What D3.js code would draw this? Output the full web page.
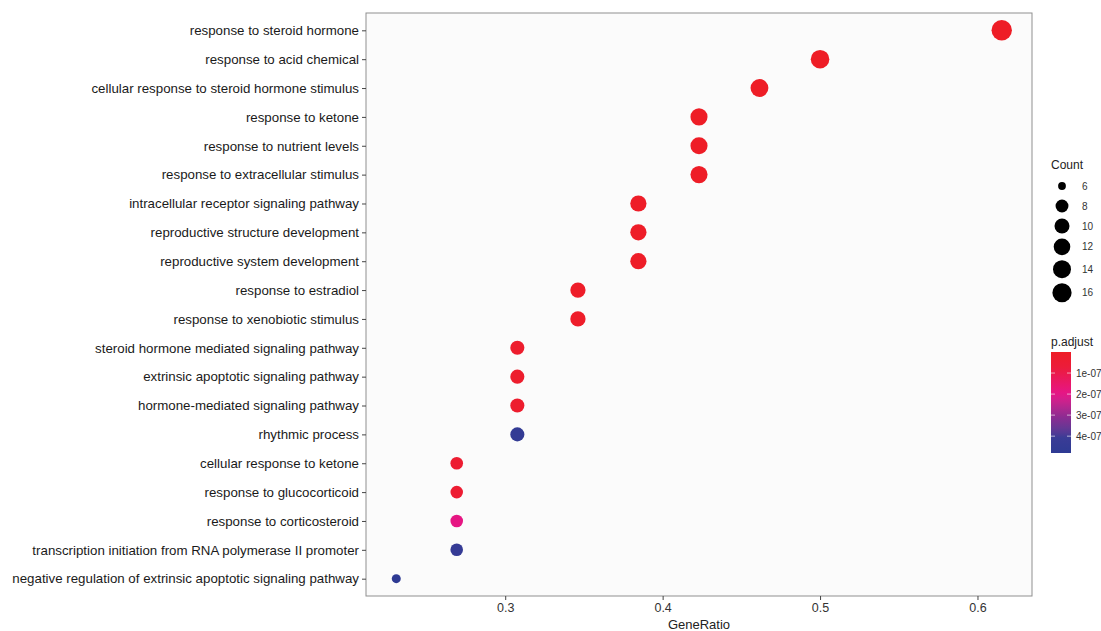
<!DOCTYPE html>
<html><head><meta charset="utf-8">
<script src="https://cdn.jsdelivr.net/npm/d3@7"></script>
<style>
body{margin:0;background:#fff;}
svg{font-family:"Liberation Sans", Arial, sans-serif;}
</style></head>
<body><svg id="chart" width="1101" height="631"></svg>
<script>
const categories = [
  "response to steroid hormone",
  "response to acid chemical",
  "cellular response to steroid hormone stimulus",
  "response to ketone",
  "response to nutrient levels",
  "response to extracellular stimulus",
  "intracellular receptor signaling pathway",
  "reproductive structure development",
  "reproductive system development",
  "response to estradiol",
  "response to xenobiotic stimulus",
  "steroid hormone mediated signaling pathway",
  "extrinsic apoptotic signaling pathway",
  "hormone-mediated signaling pathway",
  "rhythmic process",
  "cellular response to ketone",
  "response to glucocorticoid",
  "response to corticosteroid",
  "transcription initiation from RNA polymerase II promoter",
  "negative regulation of extrinsic apoptotic signaling pathway"
];
const geneRatio = [0.6154,0.5000,0.4615,0.4231,0.4231,0.4231,0.3846,0.3846,0.3846,0.3462,0.3462,0.3077,0.3077,0.3077,0.3077,0.2692,0.2692,0.2692,0.2692,0.2308];
const counts = [16,13,12,11,11,11,10,10,10,9,9,8,8,8,8,7,7,7,7,6];
const pAdjust = [1.2e-12,3.5e-11,2.1e-10,1.5e-9,2.0e-9,2.6e-9,5.0e-9,5.6e-9,6.1e-9,9.8e-9,1.2e-8,2.3e-8,2.5e-8,2.8e-8,4.5e-7,4.0e-8,4.2e-8,1.9e-7,4.4e-7,4.8e-7];
const xTicks = [0.3,0.4,0.5,0.6];
const countBreaks = [6,8,10,12,14,16];
const pBreaks = [1e-7,2e-7,3e-7,4e-7];
const pLabels = ["1e-07","2e-07","3e-07","4e-07"];

const svg = d3.select("#chart");
const P = {l:366, r:1032, t:13, b:596};

const xmin = d3.min(geneRatio), xmax = d3.max(geneRatio), xr = xmax - xmin;
const x = d3.scaleLinear().domain([xmin - 0.05*xr, xmax + 0.05*xr]).range([P.l, P.r]);
const y = d3.scalePoint().domain(categories).range([P.t, P.b]).padding(0.6);

const cmin = d3.min(counts), cmax = d3.max(counts);
const rOf = (c, a, b) => a + (b - a) * Math.sqrt((c - cmin) / (cmax - cmin));
const r = c => rOf(c, 4.5, 10.2);
const rLeg = c => rOf(c, 3.9, 9.6);

const pmax = d3.max(pAdjust), pmin = d3.min(pAdjust);
const colorStops = ["#EE1D26","#EC1C3A","#E5168A","#8A2C92","#3A3C96","#2E3A93"];
const stopT = [0,0.15,0.42,0.65,0.85,1];
const color = d3.scaleLinear()
  .domain(stopT.map(t => pmin + t*(pmax - pmin)))
  .range(colorStops).interpolate(d3.interpolateLab).clamp(true);

// panel
svg.append("rect").attr("x",P.l).attr("y",P.t).attr("width",P.r-P.l).attr("height",P.b-P.t)
  .attr("fill","#fbfbfb").attr("stroke","#8f8f8f").attr("stroke-width",1);

// points
const data = categories.map((c,i)=>({c, g:geneRatio[i], n:counts[i], p:pAdjust[i]}));
svg.append("g").selectAll("circle").data(data).join("circle")
  .attr("cx", d=>x(d.g)).attr("cy", d=>y(d.c)).attr("r", d=>r(d.n))
  .attr("fill", d=>color(d.p));

// y axis
const ya = svg.append("g").attr("transform",`translate(${P.l},0)`)
  .call(d3.axisLeft(y).tickSize(4).tickPadding(3));
ya.select(".domain").remove();
ya.selectAll("line").attr("stroke","#444");
ya.selectAll("text").attr("font-size",13.3).attr("fill","#1a1a1a");

// x axis
const xa = svg.append("g").attr("transform",`translate(0,${P.b})`)
  .call(d3.axisBottom(x).tickValues(xTicks).tickFormat(d3.format(".1f")).tickSize(4).tickPadding(3));
xa.select(".domain").remove();
xa.selectAll("line").attr("stroke","#444");
xa.selectAll("text").attr("font-size",12.5).attr("fill","#333");
svg.append("text").attr("x",(P.l+P.r)/2).attr("y",629).attr("text-anchor","middle")
  .attr("font-size",13).attr("fill","#222").text("GeneRatio");

// Count legend
const lg = svg.append("g");
lg.append("text").attr("x",1051).attr("y",169).attr("font-size",12).attr("fill","#222").text("Count");
let cy = 176;
countBreaks.forEach((c,i)=>{
  const rr = rLeg(c);
  const h = Math.max(20, 2*rr + 5);
  const yc = cy + h/2;
  lg.append("circle").attr("cx",1062).attr("cy",yc).attr("r",rr).attr("fill","#000");
  lg.append("text").attr("x",1082).attr("y",yc+3.5).attr("font-size",10).attr("fill","#333").text(c);
  cy += h;
});

// p.adjust colorbar
const defs = svg.append("defs");
const grad = defs.append("linearGradient").attr("id","pgrad").attr("x1",0).attr("y1",0).attr("x2",0).attr("y2",1);
d3.range(0,1.0001,0.05).forEach(t=>{
  grad.append("stop").attr("offset",t).attr("stop-color",color(pmin + t*(pmax-pmin)));
});
const barTop = 352, barH = 101;
const cb = d3.scaleLinear().domain([pmin,pmax]).range([barTop, barTop+barH]);
svg.append("text").attr("x",1051).attr("y",346).attr("font-size",12).attr("fill","#222").text("p.adjust");
svg.append("rect").attr("x",1051).attr("y",barTop).attr("width",20).attr("height",barH).attr("fill","url(#pgrad)");
pBreaks.forEach((b,i)=>{
  svg.append("line").attr("x1",1051).attr("x2",1055).attr("y1",cb(b)).attr("y2",cb(b)).attr("stroke","#fff").attr("stroke-opacity",0.6);
  svg.append("line").attr("x1",1067).attr("x2",1071).attr("y1",cb(b)).attr("y2",cb(b)).attr("stroke","#fff").attr("stroke-opacity",0.6);
  svg.append("text").attr("x",1076).attr("y",cb(b)+3.5).attr("font-size",10).attr("fill","#333").text(pLabels[i]);
});
</script></body></html>
